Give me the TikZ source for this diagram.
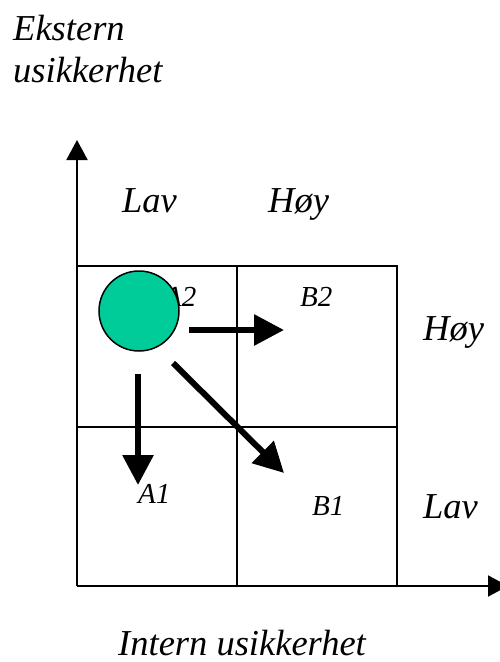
\documentclass[tikz,border=0pt]{standalone}
\usepackage{fontspec}
\setmainfont{Liberation Serif}
\usetikzlibrary{arrows.meta}
\definecolor{circgreen}{RGB}{0,204,153}
\tikzset{
  big/.style={inner sep=0pt, anchor=base west, font=\fontsize{36.5}{42}\selectfont\itshape},
  small/.style={inner sep=0pt, anchor=base west, font=\fontsize{29}{34}\selectfont\itshape},
  gridline/.style={line width=2pt},
  axis/.style={line width=2pt, -{Triangle[length=20pt,width=21pt]}},
  move/.style={line width=6pt, -{Triangle[length=30pt,width=30pt]}},
}
\begin{document}
\begin{tikzpicture}[x=1pt,y=-1pt]
\useasboundingbox (0,0) rectangle (500,662);
% grid
\coordinate (o) at (77,586);
\coordinate (ytop) at (77,140);
\coordinate (xend) at (508,586);
\draw[gridline] (77,266) -- (397,266) -- (397,586);
\draw[gridline] (77,427) -- (397,427);
\draw[gridline] (237,266) -- (237,586);
\draw[axis] (o) -- (ytop);
\draw[axis] (o) -- (xend);
% texts
\node[big] (ek1) at (13,40) {Ekstern};
\node[big] (ek2) at (13,82) {usikkerhet};
\node[big] (lavtop) at (122,212) {Lav};
\node[big] (hoytop) at (268,212) {Høy};
\node[big] (hoyr) at (423,340) {Høy};
\node[big] (lavr) at (423,518) {Lav};
\node[big] (intern) at (118,655) {Intern usikkerhet};
\node[small] (a2) at (164,306) {A2};
\node[small] (b2) at (300,306) {B2};
\node[small] (a1) at (138,503) {A1};
\node[small] (b1) at (312,515) {B1};
% circle
\node[circle, draw=black, line width=1.5pt, fill=circgreen, minimum size=80pt, inner sep=0pt] (c) at (139,311) {};
% arrows
\coordinate (r0) at (189,330);
\coordinate (r1) at (284,330);
\coordinate (d0) at (138,374);
\coordinate (d1) at (138,485);
\coordinate (g0) at (173,363);
\coordinate (g1) at (284,473);
\draw[move] (r0) -- (r1);
\draw[move] (d0) -- (d1);
\draw[move] (g0) -- (g1);
\end{tikzpicture}
\end{document}
